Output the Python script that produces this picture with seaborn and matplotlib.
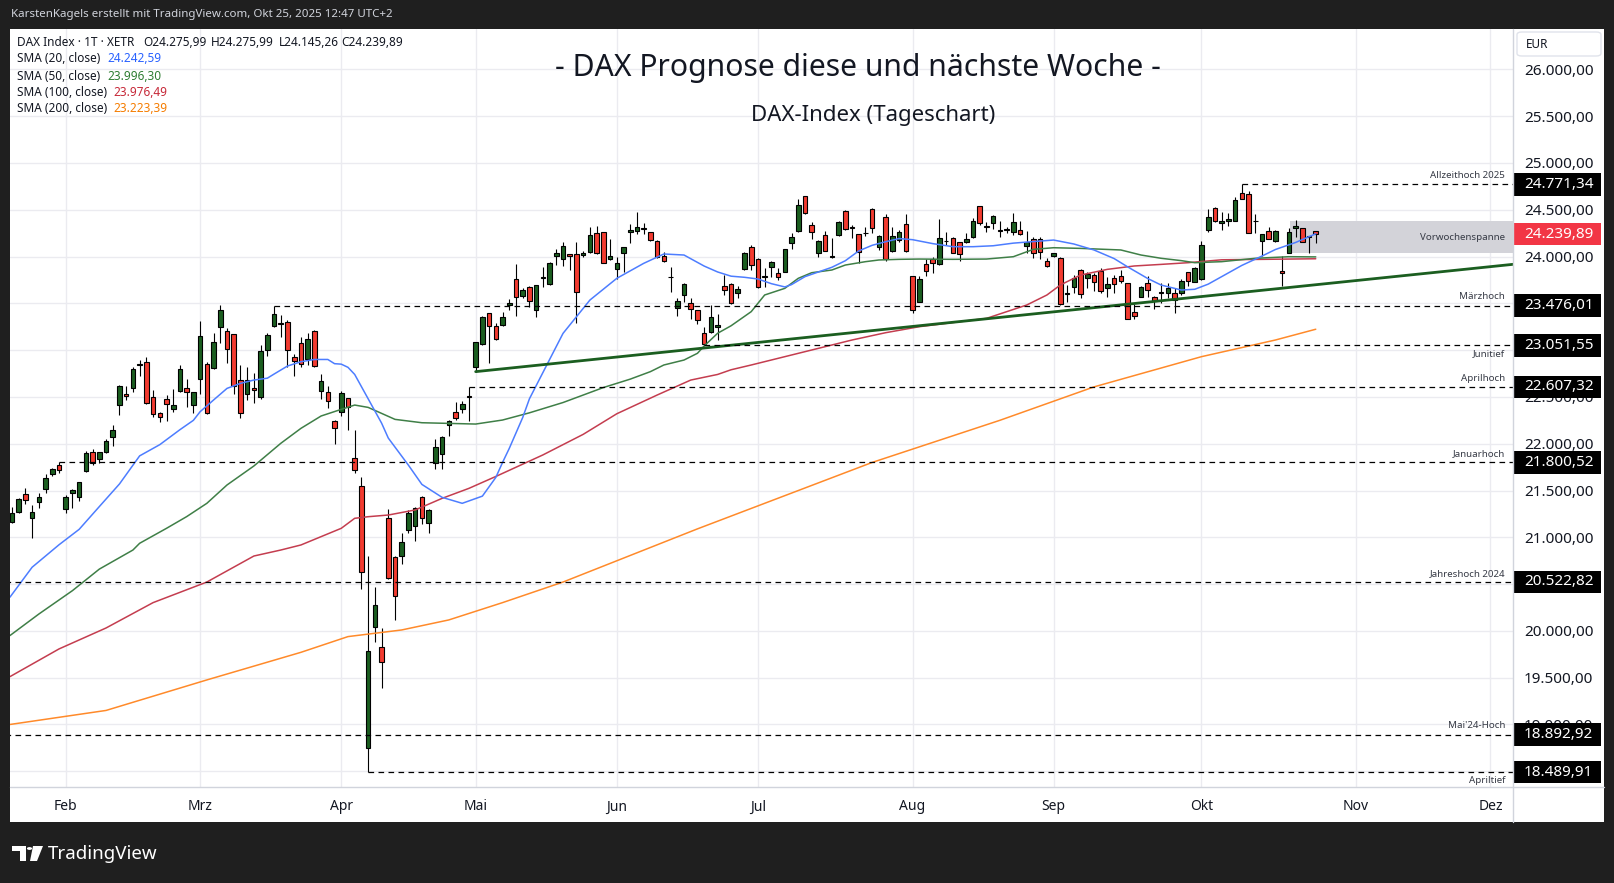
import matplotlib
matplotlib.use("Agg")
import matplotlib.pyplot as plt
import matplotlib.transforms as mtransforms
from matplotlib.lines import Line2D
from matplotlib.patches import Rectangle, FancyBboxPatch, Polygon, Circle
from matplotlib.ticker import FuncFormatter
import numpy as np
import pandas as pd
import seaborn as sns

W, H = 1615, 883

# ---- daily candles, 22 Jan .. 24 Oct 2025 (Xetra trading days) ----
OPEN = [
    21167, 21274, 21459, 21202, 21374, 21512, 21673, 21769,  # Jan
    21299, 21470, 21427, 21712, 21908, 21833, 21908, 22075, 22410, 22531,
    22591, 22845, 22876, 22502, 22324, 22474, 22367, 22566, 22591, 22413,  # Feb
    22687, 22848, 22805, 23243, 23204, 23168, 22680, 22531, 22590, 22502, 23001,
    23261, 23285, 23297, 22923, 23072, 22908, 23204, 22567, 22556, 22246,  # Mar
    22342, 22484, 21844, 21548, 18746, 20038, 19832, 21203, 20786, 20800,
    21078, 21121, 21427, 21149, 21797, 21886, 22203, 22335, 22371, 22513,  # Apr
    22816, 23065, 23393, 23258, 23265, 23478, 23756, 23582, 23678, 23428, 23770,
    23703, 24002, 23973, 24023, 24023, 24016, 24052, 24255, 24258, 23970,  # Mai
    23863, 24034, 24258, 24276, 24295, 24258, 24166, 24002, 23785, 23446, 23589,
    23500, 23425, 23179, 23197, 23247, 23688, 23710, 23607, 23863, 24105,  # Jun
    23970, 23785, 23884, 23827, 23838, 24141, 24276, 24646, 24337, 24041, 24226, 24000,
    24226, 24482, 24315, 24237, 24250, 24504, 24098, 24426, 24059, 24176, 24344,  # Jul
    23792, 23517, 23920, 23970, 23916, 24170, 24201, 24151, 24158, 24205, 24539,
    24320, 24354, 24280, 24285, 24258, 24283, 24112, 24183, 24187, 23952,  # Aug
    24009, 23981, 23600, 23671, 23856, 23774, 23802, 23845, 23660, 23767, 23792,
    23713, 23411, 23571, 23721, 23564, 23610, 23607, 23614, 23607, 23838, 23724,  # Sep
    23756, 24283, 24515, 24354, 24379, 24383, 24675, 24668, 24375, 24169, 24273,
    24162, 23840, 24034, 24308, 24301, 24210, 24276,  # Okt
]
HIGH = [
    21327, 21416, 21523, 21345, 21470, 21676, 21737, 21800,
    21452, 21512, 21594, 21922, 21940, 21915, 22047, 22200, 22627, 22617,
    22816, 22894, 22930, 22574, 22342, 22520, 22581, 22841, 22691, 22556,
    23314, 22869, 23186, 23482, 23233, 23175, 22841, 22816, 22752, 23054, 23179,
    23476, 23375, 23322, 22955, 23136, 23186, 23210, 22744, 22616, 22250,
    22566, 22490, 22146, 21641, 20800, 20473, 20028, 21299, 20800, 21042,
    21292, 21320, 21441, 21299, 22047, 22082, 22253, 22442, 22460, 22607,
    23083, 23364, 23400, 23293, 23410, 23546, 23916, 23660, 23685, 23699, 23884,
    23945, 24077, 24151, 24027, 24158, 24062, 24311, 24326, 24265, 24183,
    23998, 24098, 24347, 24479, 24354, 24265, 24176, 24052, 23884, 23553, 23713,
    23553, 23430, 23250, 23478, 23382, 23802, 23720, 23680, 24052, 24123,
    23980, 23874, 23956, 23874, 24077, 24255, 24611, 24639, 24365, 24176, 24272, 24201,
    24375, 24497, 24337, 24240, 24312, 24514, 24225, 24454, 24312, 24280, 24450,
    23795, 23795, 23977, 23991, 24397, 24265, 24212, 24158, 24255, 24415, 24540,
    24372, 24443, 24379, 24318, 24461, 24383, 24272, 24212, 24205, 23980,
    24041, 23991, 23696, 23803, 23863, 23838, 23820, 23874, 23785, 23802, 23856,
    23713, 23493, 23685, 23792, 23578, 23720, 23720, 23660, 23756, 23838, 23884,
    24166, 24504, 24532, 24479, 24461, 24639, 24771, 24703, 24454, 24240, 24319,
    24283, 24004, 24301, 24390, 24301, 24219, 24276,
]
LOW = [
    21150, 21256, 21356, 20996, 21310, 21477, 21655, 21690,
    21263, 21310, 21391, 21701, 21772, 21790, 21897, 21975, 22307, 22467,
    22556, 22723, 22424, 22289, 22236, 22246, 22342, 22556, 22388, 22331,
    22531, 22317, 22794, 23072, 22866, 22531, 22271, 22467, 22431, 22474, 22937,
    23250, 23136, 22823, 22723, 22823, 22841, 22823, 22478, 22385, 21993,
    22299, 22146, 21683, 20444, 18490, 19885, 19394, 20550, 20117, 20711,
    21050, 20964, 21142, 21050, 21730, 21730, 22086, 22253, 22324, 22246,
    22770, 23055, 22866, 23110, 23258, 23428, 23368, 23553, 23457, 23350, 23671,
    23696, 23909, 23902, 23856, 23286, 23998, 24034, 24027, 23927, 23963,
    23756, 23838, 24141, 24237, 24237, 24170, 23980, 23945, 23624, 23368, 23517,
    23329, 23275, 23052, 23179, 23108, 23589, 23490, 23560, 23856, 23856,
    23660, 23671, 23777, 23749, 23830, 24077, 24265, 24455, 24183, 23991, 24055, 23980,
    24220, 24283, 24201, 23934, 24219, 24248, 24070, 23956, 24052, 24160, 24052,
    23393, 23510, 23795, 23820, 23910, 24123, 24035, 23952, 24148, 24194, 24337,
    24258, 24290, 24212, 24255, 24230, 24230, 24041, 23980, 23973, 23891,
    24000, 23482, 23518, 23607, 23553, 23660, 23632, 23607, 23571, 23607, 23713,
    23329, 23329, 23564, 23571, 23436, 23507, 23560, 23393, 23589, 23685, 23724,
    23749, 24265, 24372, 24283, 24326, 24383, 24611, 24248, 24255, 24004, 24183,
    24155, 23685, 24034, 24212, 24151, 24041, 24145,
]
CLOSE = [
    21256, 21406, 21398, 21274, 21427, 21637, 21726, 21719,
    21427, 21505, 21587, 21904, 21790, 21908, 22032, 22146, 22617, 22513,
    22798, 22851, 22431, 22314, 22282, 22424, 22413, 22794, 22548, 22548,
    23151, 22324, 23083, 23428, 23008, 22620, 22324, 22680, 22575, 22990, 23158,
    23382, 23279, 23001, 22887, 22848, 23115, 22834, 22673, 22460, 22164,
    22538, 22388, 21719, 20633, 19786, 20273, 19664, 20562, 20373, 20953,
    21256, 21310, 21203, 21292, 21961, 22068, 22239, 22271, 22424, 22495,
    23083, 23350, 23258, 23115, 23350, 23500, 23564, 23642, 23528, 23692, 23777,
    23934, 24034, 24116, 24005, 23624, 24041, 24230, 24034, 23934, 24005,
    23927, 24098, 24283, 24319, 24304, 24173, 23991, 23952, 23777, 23521, 23703,
    23436, 23318, 23062, 23350, 23265, 23638, 23500, 23653, 24034, 23909,
    23671, 23792, 23938, 23785, 24077, 24205, 24547, 24461, 24258, 24166, 24062, 24009,
    24372, 24290, 24310, 24045, 24255, 24301, 24219, 23970, 24219, 24262, 24062,
    23429, 23760, 23845, 23927, 24194, 24165, 24041, 24027, 24183, 24379, 24354,
    24329, 24433, 24272, 24290, 24365, 24237, 24155, 24041, 24045, 23899,
    24034, 23489, 23603, 23767, 23596, 23810, 23724, 23635, 23706, 23703, 23742,
    23329, 23364, 23678, 23642, 23528, 23614, 23667, 23535, 23742, 23742, 23881,
    24123, 24426, 24379, 24379, 24397, 24604, 24611, 24248, 24383, 24240, 24183,
    24273, 23827, 24258, 24329, 24151, 24212, 24240,
]

# ---- moving averages (bar number, value) ----
SMA20_BAR = [-0.3, 3, 7, 10, 13, 16, 19, 22, 25, 27, 28, 30, 32, 34, 36, 38, 39, 41, 43, 45,
             47, 48, 49, 50, 51, 53, 55, 56, 59, 61, 64, 67, 70, 72, 73, 74, 76, 77, 78, 82,
             86, 90, 94, 97, 100, 103, 105, 107, 109, 111, 113, 115, 116, 118, 120, 122, 124,
             126, 128, 130, 132, 134, 137, 140, 143, 146, 149, 152, 155, 158, 161, 164, 166,
             169, 171, 174, 176, 178, 180, 183, 186, 188, 191, 194]
SMA20_VAL = [20360, 20680, 20920, 21085, 21328, 21570, 21870, 21990, 22150, 22250, 22342, 22467,
             22591, 22645, 22680, 22700, 22744, 22830, 22876, 22900, 22900, 22855, 22850, 22816,
             22740, 22480, 22220, 22060, 21770, 21565, 21427, 21363, 21440, 21640, 21800, 21950,
             22280, 22480, 22620, 23179, 23535, 23767, 23927, 24027, 24016, 23898, 23835, 23790,
             23778, 23760, 23710, 23675, 23700, 23785, 23835, 23885, 23955, 24060, 24120, 24158,
             24192, 24180, 24138, 24105, 24105, 24115, 24143, 24160, 24176, 24134, 24070, 23978,
             23890, 23765, 23695, 23642, 23650, 23705, 23785, 23905, 24005, 24075, 24150, 24243]
SMA50_BAR = [-0.3, 4, 9, 13, 18, 19, 23, 26, 29, 32, 36, 40, 43, 46, 49, 51, 53, 57, 61, 65,
             69, 73, 77, 82, 88, 92, 95, 97, 100, 102, 103, 105, 107, 110, 112, 115, 117, 119,
             122, 124, 127, 129, 132, 135, 140, 145, 149, 152, 155, 159, 165, 168, 171, 174,
             176, 180, 185, 190, 194]
SMA50_VAL = [19950, 20180, 20430, 20660, 20864, 20936, 21096, 21221, 21363, 21559, 21762, 22004,
             22164, 22296, 22367, 22413, 22388, 22260, 22224, 22217, 22210, 22253, 22330, 22440,
             22600, 22690, 22770, 22841, 22894, 22966, 23044, 23180, 23260, 23411, 23589, 23660,
             23767, 23827, 23856, 23909, 23945, 23963, 23970, 23973, 23970, 23973, 23998, 24077,
             24094, 24087, 24070, 24016, 23981, 23956, 23934, 23945, 23981, 23998, 23996]
SMA100_BAR = [-0.3, 7, 14, 21, 29, 36, 40, 43, 46, 49, 51, 53, 56, 60, 64, 68, 72, 79, 85, 90,
              96, 101, 105, 107, 110, 115, 120, 125, 130, 135, 145, 151, 154, 156, 159, 163,
              167, 171, 175, 180, 194]
SMA100_VAL = [19511, 19807, 20031, 20302, 20522, 20800, 20864, 20918, 21007, 21096, 21203, 21220,
              21238, 21292, 21416, 21523, 21650, 21880, 22100, 22320, 22520, 22680, 22740, 22790,
              22841, 22930, 23019, 23108, 23186, 23250, 23339, 23482, 23589, 23696, 23802, 23863,
              23899, 23916, 23934, 23965, 23976]
SMA200_BAR = [-0.3, 14, 29, 43, 50, 58, 65, 73, 82, 102, 128, 147, 161, 177, 188, 194]
SMA200_VAL = [19000, 19150, 19476, 19771, 19939, 20010, 20117, 20302, 20522, 21090, 21800,
              22250, 22607, 22930, 23108, 23223]

# ---- drawings ----
TREND_BAR = [69, 223.4]
TREND_VAL = [22770, 23917]
RANGE_LOW, RANGE_HIGH, RANGE_START = 24034, 24380, 190.2

LEVEL_NAMES = ["Allzeithoch 2025", "Märzhoch", "Junitief", "Aprilhoch", "Januarhoch",
               "Jahreshoch 2024", "Mai'24-Hoch", "Apriltief"]
LEVEL_PRICES = [24771.34, 23476.01, 23051.55, 22607.32, 21800.52, 20522.82, 18892.92, 18489.91]
LEVEL_START = [183, 39, 103, 68, 7, -1, -1, 53]
LEVEL_BELOW = [False, False, True, False, False, False, False, True]
LAST_PRICE = 24239.89

MONTHS = ["Feb", "Mrz", "Apr", "Mai", "Jun", "Jul", "Aug", "Sep", "Okt", "Nov", "Dez"]
HOLIDAYS = ["2025-04-18", "2025-04-21", "2025-05-01", "2025-12-24", "2025-12-25",
            "2025-12-26", "2025-12-31"]

# colours
UP, DOWN = "#1b5e20", "#f23b30"
C20, C50, C100, C200 = "#4d7dff", "#3f7f47", "#c43d4f", "#ff8a2a"
TXT = "#131722"


def de(v):
    return f"{v:,.2f}".replace(",", "X").replace(".", ",").replace("X", ".")


def fx(x):
    return x / W


def fy(y):
    return 1 - y / H


days = pd.bdate_range("2025-01-22", "2025-12-31")
days = days[~days.isin(pd.to_datetime(HOLIDAYS))]
month_bars = [int(np.argmax(days.month == m)) for m in range(2, 13)]

o, h, l, c = (np.array(a, dtype=float) for a in (OPEN, HIGH, LOW, CLOSE))
bars = np.arange(len(o))

sns.set_theme(style="white")
plt.rcParams["font.family"] = ["Noto Sans", "DejaVu Sans"]

fig = plt.figure(figsize=(W / 100, H / 100), dpi=100, facecolor="#1f1f1f")
fig.add_artist(Rectangle((fx(10), fy(822)), (1604 - 10) / W, (822 - 29) / H,
                         transform=fig.transFigure, facecolor="white", edgecolor="none", zorder=-1))
ax = fig.add_axes([fx(10), fy(787), (1513 - 10) / W, (787 - 29) / H])
ax.set_facecolor("white")
for s in ax.spines.values():
    s.set_visible(False)

ax.set_xlim(-0.29, 223.35)
ax.set_ylim(18332, 26431)

# grid
ax.set_yticks(np.arange(18500, 26001, 500))
ax.set_xticks(month_bars)
ax.set_xticklabels(MONTHS)
ax.grid(True, color="#ebebf0", linewidth=1.0)
ax.set_axisbelow(True)

# previous week range
ax.add_patch(Rectangle((RANGE_START, RANGE_LOW), 223.35 - RANGE_START, RANGE_HIGH - RANGE_LOW,
                       facecolor="#d3d3d9", edgecolor="none", zorder=1))
ax.text(0.9947, (RANGE_LOW + RANGE_HIGH) / 2, "Vorwochenspanne",
        transform=mtransforms.blended_transform_factory(ax.transAxes, ax.transData),
        ha="right", va="center", fontsize=7, color="#363a45", zorder=2)

# candles
up = c >= o
ax.vlines(bars, l, h, color="black", linewidth=0.8, zorder=3)
ax.bar(bars, np.maximum(np.abs(c - o), 6), bottom=np.minimum(o, c), width=0.68,
       color=np.where(up, UP, DOWN), edgecolor="black", linewidth=0.8, zorder=4)

# moving averages
for xs, ys, col in [(SMA200_BAR, SMA200_VAL, C200), (SMA100_BAR, SMA100_VAL, C100),
                    (SMA50_BAR, SMA50_VAL, C50), (SMA20_BAR, SMA20_VAL, C20)]:
    sns.lineplot(x=xs, y=ys, ax=ax, color=col, linewidth=1.1, zorder=5)

# trend line
sns.lineplot(x=TREND_BAR, y=TREND_VAL, ax=ax, color="#1b5e20", linewidth=2.0, zorder=6)

# horizontal levels
blend = mtransforms.blended_transform_factory(ax.transAxes, ax.transData)
for name, p, start, below in zip(LEVEL_NAMES, LEVEL_PRICES, LEVEL_START, LEVEL_BELOW):
    ax.hlines(p, start, 223.35, colors="black", linestyles=(0, (4.5, 3.5)), linewidth=0.9, zorder=6)
    ax.annotate(name, xy=(0.9947, p), xycoords=blend, xytext=(0, -3 if below else 3),
                textcoords="offset points", ha="right", va="top" if below else "bottom",
                fontsize=7, color="#363a45", zorder=7)

# price axis
ax.yaxis.tick_right()
hidden = {18500, 20500, 23000, 23500}
ax.yaxis.set_major_formatter(FuncFormatter(lambda v, _: "" if round(v) in hidden else de(v)))
ax.tick_params(axis="y", length=0, pad=8, labelsize=11, labelcolor=TXT)
ax.tick_params(axis="x", length=0, pad=9, labelsize=10, labelcolor=TXT)
for lbl in ax.get_xticklabels():
    lbl.set_fontweight("bold")
ax.set_xlabel("")
ax.set_ylabel("")

box_h = 120
for p, col in [(v, "black") for v in LEVEL_PRICES] + [(LAST_PRICE, "#f23645")]:
    ax.add_patch(Rectangle((1.0007, p - box_h), 0.0579, 2 * box_h, transform=blend,
                           facecolor=col, edgecolor="none", clip_on=False, zorder=10))
    ax.text(1.0073, p, de(p), transform=blend, ha="left", va="center", fontsize=11,
            color="white", clip_on=False, zorder=11)

# panel separators
fig.add_artist(Line2D([fx(1513), fx(1513)], [fy(29), fy(822)], color="#d1d4dc", lw=1,
                      transform=fig.transFigure))
fig.add_artist(Line2D([fx(10), fx(1604)], [fy(787), fy(787)], color="#d1d4dc", lw=1,
                      transform=fig.transFigure))

# EUR box
fig.add_artist(FancyBboxPatch((fx(1517), fy(56)), (1601 - 1517) / W, (56 - 32) / H,
                              boxstyle="round,pad=0,rounding_size=0.003",
                              transform=fig.transFigure, facecolor="white",
                              edgecolor="#e0e3eb", lw=1))
fig.text(fx(1526), fy(44), "EUR", fontsize=8.5, color=TXT, va="center", ha="left")

# titles
fig.text(fx(858), fy(68), "- DAX Prognose diese und nächste Woche -", fontsize=21.7,
         color=TXT, ha="center", va="center")
fig.text(fx(873), fy(115), "DAX-Index (Tageschart)", fontsize=16, color=TXT,
         ha="center", va="center")

# legend lines
fig.text(fx(17), fy(43), "DAX Index · 1T · XETR", fontsize=8.5, color=TXT, va="center")
for xpos, s in [(143, "O24.275,99"), (211, "H24.275,99"), (279, "L24.145,26"), (341, "C24.239,89")]:
    fig.text(fx(xpos), fy(43), s, fontsize=8.5, color=TXT, va="center")
for ypos, lab, val, col, vx in [(59, "SMA (20, close)", "24.242,59", "#2962ff", 107),
                                (76, "SMA (50, close)", "23.996,30", "#2e7d32", 107),
                                (92, "SMA (100, close)", "23.976,49", "#c62838", 113),
                                (109, "SMA (200, close)", "23.223,39", "#f57c00", 113)]:
    fig.text(fx(17), fy(ypos), lab, fontsize=8.5, color=TXT, va="center")
    fig.text(fx(vx), fy(ypos), val, fontsize=8.5, color=col, va="center")

# header / footer
fig.text(fx(11), fy(15), "KarstenKagels erstellt mit TradingView.com, Okt 25, 2025 12:47 UTC+2",
         fontsize=8.3, color="#d1d4dc", va="center")
logo = [Polygon([(fx(12), fy(846)), (fx(26), fy(846)), (fx(26), fy(861)), (fx(20), fy(861)),
                 (fx(20), fy(851)), (fx(12), fy(851))], closed=True),
        Polygon([(fx(33), fy(846)), (fx(43), fy(846)), (fx(37), fy(861)), (fx(30), fy(861))],
                closed=True)]
for pg in logo:
    pg.set_transform(fig.transFigure)
    pg.set_facecolor("white")
    pg.set_edgecolor("none")
    fig.add_artist(pg)
fig.add_artist(Circle((fx(29.5), fy(848.5)), 2.6 / W, transform=fig.transFigure,
                      facecolor="white", edgecolor="none"))
fig.text(fx(48), fy(854), "TradingView", fontsize=13.5, fontweight="bold", color="white",
         va="center")

fig.savefig("out.png", dpi=100, facecolor=fig.get_facecolor())
